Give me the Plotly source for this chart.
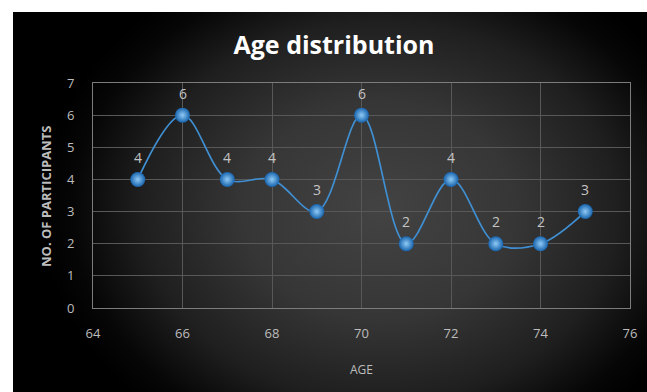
import plotly.graph_objects as go

# ---- data ----
ages = [65, 66, 67, 68, 69, 70, 71, 72, 73, 74, 75]
participants = [4, 6, 4, 4, 3, 6, 2, 4, 2, 2, 3]
x_ticks = [64, 66, 68, 70, 72, 74, 76]
y_ticks = [0, 1, 2, 3, 4, 5, 6, 7]
title_text = "Age distribution"
x_title = "AGE"
y_title = "NO. OF PARTICIPANTS"

W, H = 647, 392
# chart panel pixel box (left, top) – extends to the right/bottom edges
CL, CT = 13, 12
# plot-area pixel box (left, right, top, bottom)
PL, PR, PT, PB = 93, 630, 83, 308

# background panel (pixel coords on a helper axis clipped to the panel)
base_x = [0, 700, 700, 0, 0]
base_y = [0, 0, 450, 450, 0]
glow_x = [40, 720, 720, 40, 40]
glow_y = [-60, -60, 480, 480, -60]

fig = go.Figure()

fig.add_trace(go.Scatter(
    x=base_x, y=base_y, xaxis="x", yaxis="y", fill="toself", mode="none",
    fillcolor="#000000", hoverinfo="skip", showlegend=False,
))
fig.add_trace(go.Scatter(
    x=glow_x, y=glow_y, xaxis="x", yaxis="y", fill="toself", mode="none",
    fillgradient=dict(type="radial",
                      colorscale=[[0, "#434343"], [0.4, "#363636"],
                                  [0.7, "#1f1f1f"], [0.9, "#060606"],
                                  [1, "#000000"]]),
    hoverinfo="skip", showlegend=False,
))

fig.add_trace(go.Scatter(
    x=ages, y=participants, xaxis="x2", yaxis="y2",
    mode="lines+markers",
    line=dict(shape="spline", smoothing=1, color="#3f8fd2", width=1.7),
    marker=dict(size=15, color="#1763ad",
                gradient=dict(type="radial", color="#8fcaf5"),
                line=dict(width=0)),
    showlegend=False,
))

for a, v in zip(ages, participants):
    fig.add_annotation(x=a, y=v, xref="x2", yref="y2", text=str(v),
                       showarrow=False, yshift=22,
                       font=dict(family="Open Sans", size=14, color="#c4c4c4"))

axis_common = dict(
    showgrid=True, gridcolor="#585858", gridwidth=1,
    showline=True, linecolor="#7c7c7c", linewidth=1, mirror=True,
    zeroline=False, ticks="outside", tickcolor="rgba(0,0,0,0)",
    tickfont=dict(family="Open Sans", size=13, color="#bdbdbd"),
    automargin=False,
)

fig.update_layout(
    width=W, height=H, autosize=False,
    margin=dict(l=0, r=0, t=0, b=0, pad=0, autoexpand=False),
    paper_bgcolor="white", plot_bgcolor="rgba(0,0,0,0)",
    xaxis=dict(domain=[CL / W, 1], range=[CL, W], visible=False, fixedrange=True,
               automargin=False),
    yaxis=dict(domain=[0, 1 - CT / H], range=[H, CT], visible=False,
               fixedrange=True, automargin=False),
    xaxis2=dict(domain=[PL / W, PR / W], range=[64, 76], tickvals=x_ticks,
                anchor="y2", ticklen=13, **axis_common),
    yaxis2=dict(domain=[1 - PB / H, 1 - PT / H], range=[0, 7], tickvals=y_ticks,
                anchor="x2", ticklen=15, **axis_common),
    title=dict(text="<b>" + title_text + "</b>", x=334 / W, y=1 - 45 / H,
               xanchor="center", yanchor="middle", xref="paper", yref="container",
               automargin=False,
               font=dict(family="Open Sans", size=25, color="white")),
)

fig.add_annotation(x=361 / W, y=1 - 369 / H, xref="paper", yref="paper",
                   xanchor="center", yanchor="middle",
                   text=x_title, showarrow=False,
                   font=dict(family="Open Sans", size=12, color="#bdbdbd"))
fig.add_annotation(x=46 / W, y=1 - 197 / H, xref="paper", yref="paper",
                   xanchor="center", yanchor="middle",
                   text="<b>" + y_title + "</b>", showarrow=False, textangle=-90,
                   font=dict(family="Open Sans", size=13, color="#bdbdbd"))

fig.write_html("out.html")
